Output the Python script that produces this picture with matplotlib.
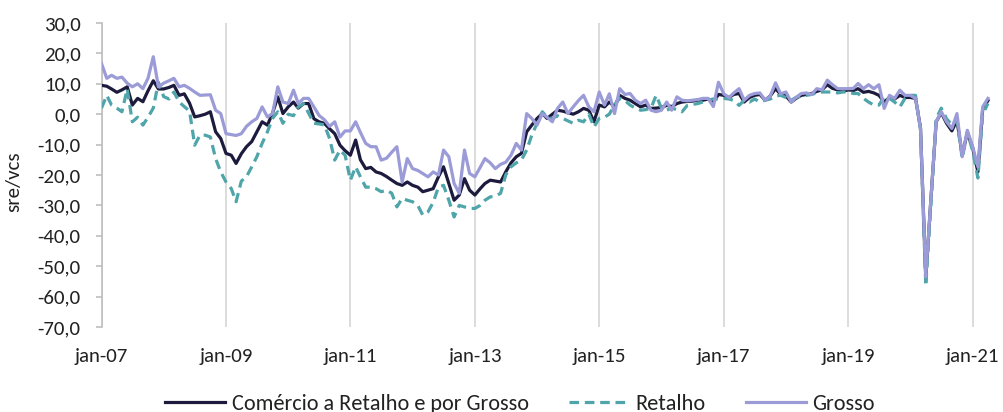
import matplotlib
matplotlib.use("Agg")
import matplotlib.pyplot as plt
from matplotlib import font_manager
from matplotlib.ticker import FuncFormatter
import pandas as pd
import numpy as np

# Monthly series, jan-2007 .. apr-2021 (sre/vcs)
total = [
    9.5, 9.2, 8.3, 7.2, 8.0, 9.0, 3.0, 5.2, 4.1, 7.7, 11.0, 8.3,
    8.3, 8.8, 9.5, 6.2, 6.7, 3.6, -0.9, -0.5, 0.0, 0.8, -5.8, -8.0,
    -12.9, -13.5, -16.2, -13.0, -10.7, -9.0, -5.8, -2.5, -3.6, 0.3, 5.7, 0.2,
    2.4, 4.0, 2.0, 3.5, 3.5, -1.5, -2.5, -3.0, -4.8, -6.4, -10.2, -12.0,
    -13.5, -8.5, -15.0, -17.9, -17.5, -19.0, -19.5, -20.5, -21.7, -22.8, -23.4, -22.3,
    -23.4, -24.0, -25.5, -25.0, -24.5, -20.6, -17.3, -22.8, -28.3, -26.6, -21.2, -25.0,
    -26.6, -24.5, -22.8, -21.7, -22.0, -22.3, -19.0, -16.0, -14.0, -12.9, -5.8, -3.6,
    -1.4, 0.2, -1.4, 0.0, 1.3, 1.0, 0.5, 0.0, 0.8, 1.9, 1.3, -2.5,
    3.0, 2.4, 4.0, 2.5, 6.2, 5.2, 4.6, 3.5, 2.4, 3.0, 1.9, 2.0,
    2.2, 2.9, 2.5, 3.5, 4.0, 4.2, 4.3, 4.6, 4.6, 5.0, 4.0, 6.5,
    6.2, 5.5, 6.5, 6.8, 4.0, 5.5, 6.2, 6.5, 4.6, 6.0, 8.4, 6.5,
    6.0, 4.0, 5.2, 6.2, 6.5, 6.8, 7.5, 8.0, 9.7, 8.5, 8.0, 7.5,
    8.0, 7.8, 8.4, 7.2, 7.5, 7.0, 6.2, 4.0, 5.5, 5.0, 6.2, 5.5,
    5.5, 5.2, -4.5, -54.0, -28.0, -2.5, 0.5, -3.0, -5.5, -2.0, -13.5, -6.0,
    -11.0, -19.0, 1.5, 4.5,
]

retalho = [
    2.0, 6.2, 3.0, 2.0, 0.8, 8.3, -2.5, -1.0, -3.6, -1.0, 2.0, 10.5,
    5.8, 5.0, 7.3, 4.0, 2.5, 1.0, -10.2, -6.9, -6.9, -7.5, -14.6, -19.0,
    -22.3, -24.5, -28.8, -22.0, -20.6, -17.3, -14.0, -9.6, -5.8, -1.4, 0.8, -3.0,
    0.0, -0.5, 2.4, 3.5, 0.3, -3.0, -3.2, -3.5, -8.0, -15.1, -11.8, -13.5,
    -21.7, -17.3, -20.6, -24.0, -24.0, -24.5, -25.5, -25.0, -26.0, -30.5, -27.7, -28.3,
    -28.8, -30.0, -33.2, -32.1, -29.0, -24.0, -23.4, -28.3, -33.8, -30.0, -30.5, -31.0,
    -31.0, -30.0, -28.3, -27.2, -27.0, -26.0, -20.0, -17.3, -16.0, -15.1, -11.8, -6.9,
    -3.0, 0.8, -1.0, -1.4, -0.5, -1.4, -2.2, -3.0, -2.0, -2.5, 0.0, -4.2,
    -1.4, -1.0, 0.0, 3.0, 5.2, 4.5, 3.0, 2.0, 1.3, 1.5, 2.0, 6.2,
    2.0, 1.3, 2.0, 1.5, 0.8, 2.9, 3.2, 3.5, 4.0, 4.6, 5.0, 5.0,
    5.2, 5.0, 4.5, 2.9, 4.6, 4.0, 5.0, 4.0, 4.6, 5.0, 6.0, 6.2,
    5.5, 4.6, 5.5, 6.0, 6.2, 6.5, 7.0, 7.3, 7.3, 7.3, 7.0, 7.3,
    7.3, 6.8, 6.8, 5.2, 4.0, 3.0, 3.0, 5.7, 5.2, 4.0, 2.4, 5.2,
    6.2, 6.2, -5.0, -56.5, -30.0, -1.5, 2.0, -1.5, -3.5, -2.0, -14.5, -6.0,
    -12.0, -21.0, 0.0, 3.5,
]

grosso = [
    16.7, 11.8, 12.8, 11.8, 12.2, 10.2, 9.0, 10.0, 8.4, 11.8, 18.9, 9.0,
    10.2, 11.0, 11.8, 9.0, 9.5, 8.5, 7.3, 6.2, 6.3, 6.4, 1.3, 0.2,
    -6.4, -6.7, -7.0, -6.4, -4.0, -2.5, -1.4, 2.4, -0.9, 0.2, 9.0, 4.0,
    3.5, 7.9, 3.5, 5.2, 5.2, 2.4, -0.4, -1.8, -4.0, -2.5, -7.5, -5.5,
    -5.5, -2.5, -6.0, -9.6, -10.7, -10.7, -15.1, -14.5, -12.5, -10.7, -22.3, -14.6,
    -17.9, -18.5, -19.5, -20.6, -19.0, -20.0, -11.8, -14.0, -22.8, -26.0, -11.8, -19.5,
    -20.6, -17.5, -14.6, -16.0, -17.9, -16.5, -15.8, -13.5, -9.6, -11.8, 0.2, -1.4,
    -3.6, 0.2, -1.0, -2.5, 1.9, 4.0, 0.2, 2.4, 4.5, 6.2, 2.4, 0.8,
    7.3, 3.0, 6.7, 0.2, 8.4, 6.5, 6.8, 4.6, 3.5, 4.6, 1.3, 0.8,
    1.3, 4.0, 1.3, 5.7, 4.6, 4.4, 4.6, 4.8, 5.2, 5.2, 2.5, 10.5,
    6.7, 5.5, 7.0, 8.4, 4.6, 6.2, 6.8, 7.0, 4.6, 6.0, 10.3, 6.7,
    7.3, 4.0, 5.5, 6.8, 7.0, 6.5, 8.4, 8.0, 11.2, 9.7, 8.4, 8.4,
    8.4, 8.5, 10.1, 8.4, 9.7, 8.4, 9.7, 1.9, 6.2, 5.2, 7.9, 6.2,
    6.2, 5.2, -4.7, -53.5, -28.0, -2.5, 0.8, -2.5, -4.7, 0.2, -14.0, -5.3,
    -10.7, -17.3, 2.4, 5.2,
]

series_names = ["Comércio a Retalho e por Grosso", "Retalho", "Grosso"]
tick_labels = ["jan-07", "jan-09", "jan-11", "jan-13", "jan-15", "jan-17", "jan-19", "jan-21"]

dates = pd.date_range("2007-01-01", periods=len(total), freq="MS")
tick_dates = pd.date_range("2007-01-01", "2021-01-01", freq="24MS")

# pick a narrow sans face if one is installed
installed = {f.name for f in font_manager.fontManager.ttflist}
font = "DejaVu Sans"
for fam in ["Carlito", "Liberation Sans Narrow", "Open Sans", "Liberation Sans"]:
    if fam in installed:
        font = fam
        break
plt.rcParams["font.family"] = [font, "DejaVu Sans"]

fig = plt.figure(figsize=(10.04, 4.12), dpi=100)
ax = fig.add_axes([0.1011, 0.2063, 0.888, 0.7379])

ax.plot(dates, total, color="#1c1b3d", lw=2.3, label=series_names[0], zorder=3)
ax.plot(dates, retalho, color="#4fa5a9", lw=2.3, dashes=(3.0, 1.8), label=series_names[1], zorder=3)
ax.plot(dates, grosso, color="#9b9bd8", lw=2.3, label=series_names[2], zorder=4)

ax.set_ylim(-70, 30)
ax.set_yticks(np.arange(-70, 31, 10))
ax.yaxis.set_major_formatter(FuncFormatter(lambda v, p: f"{v:.1f}".replace(".", ",")))
ax.set_xlim(pd.Timestamp("2007-01-01"), pd.Timestamp("2021-05-01"))
ax.set_xticks(tick_dates)
ax.set_xticklabels(tick_labels)

ax.grid(axis="x", color="#d9d9d9", lw=1.3)
ax.set_axisbelow(True)
for s in ["top", "right", "bottom"]:
    ax.spines[s].set_visible(False)
ax.spines["left"].set_color("#bfbfbf")
ax.spines["left"].set_linewidth(1.2)
ax.tick_params(axis="y", length=4, color="#bfbfbf", width=1.2, pad=11, labelsize=15, labelcolor="#222222")
ax.tick_params(axis="x", length=0, pad=15, labelsize=15, labelcolor="#222222")

fig.text(0.014, 0.558, "sre/vcs", rotation=90, ha="center", va="center", fontsize=15, color="#222222")

fig.legend(loc="center", bbox_to_anchor=(0.518, 0.02), ncol=3, frameon=False,
           fontsize=16, handlelength=2.7, handletextpad=0.3, columnspacing=1.8,
           labelcolor="#222222")

fig.savefig("out.png", dpi=100)
